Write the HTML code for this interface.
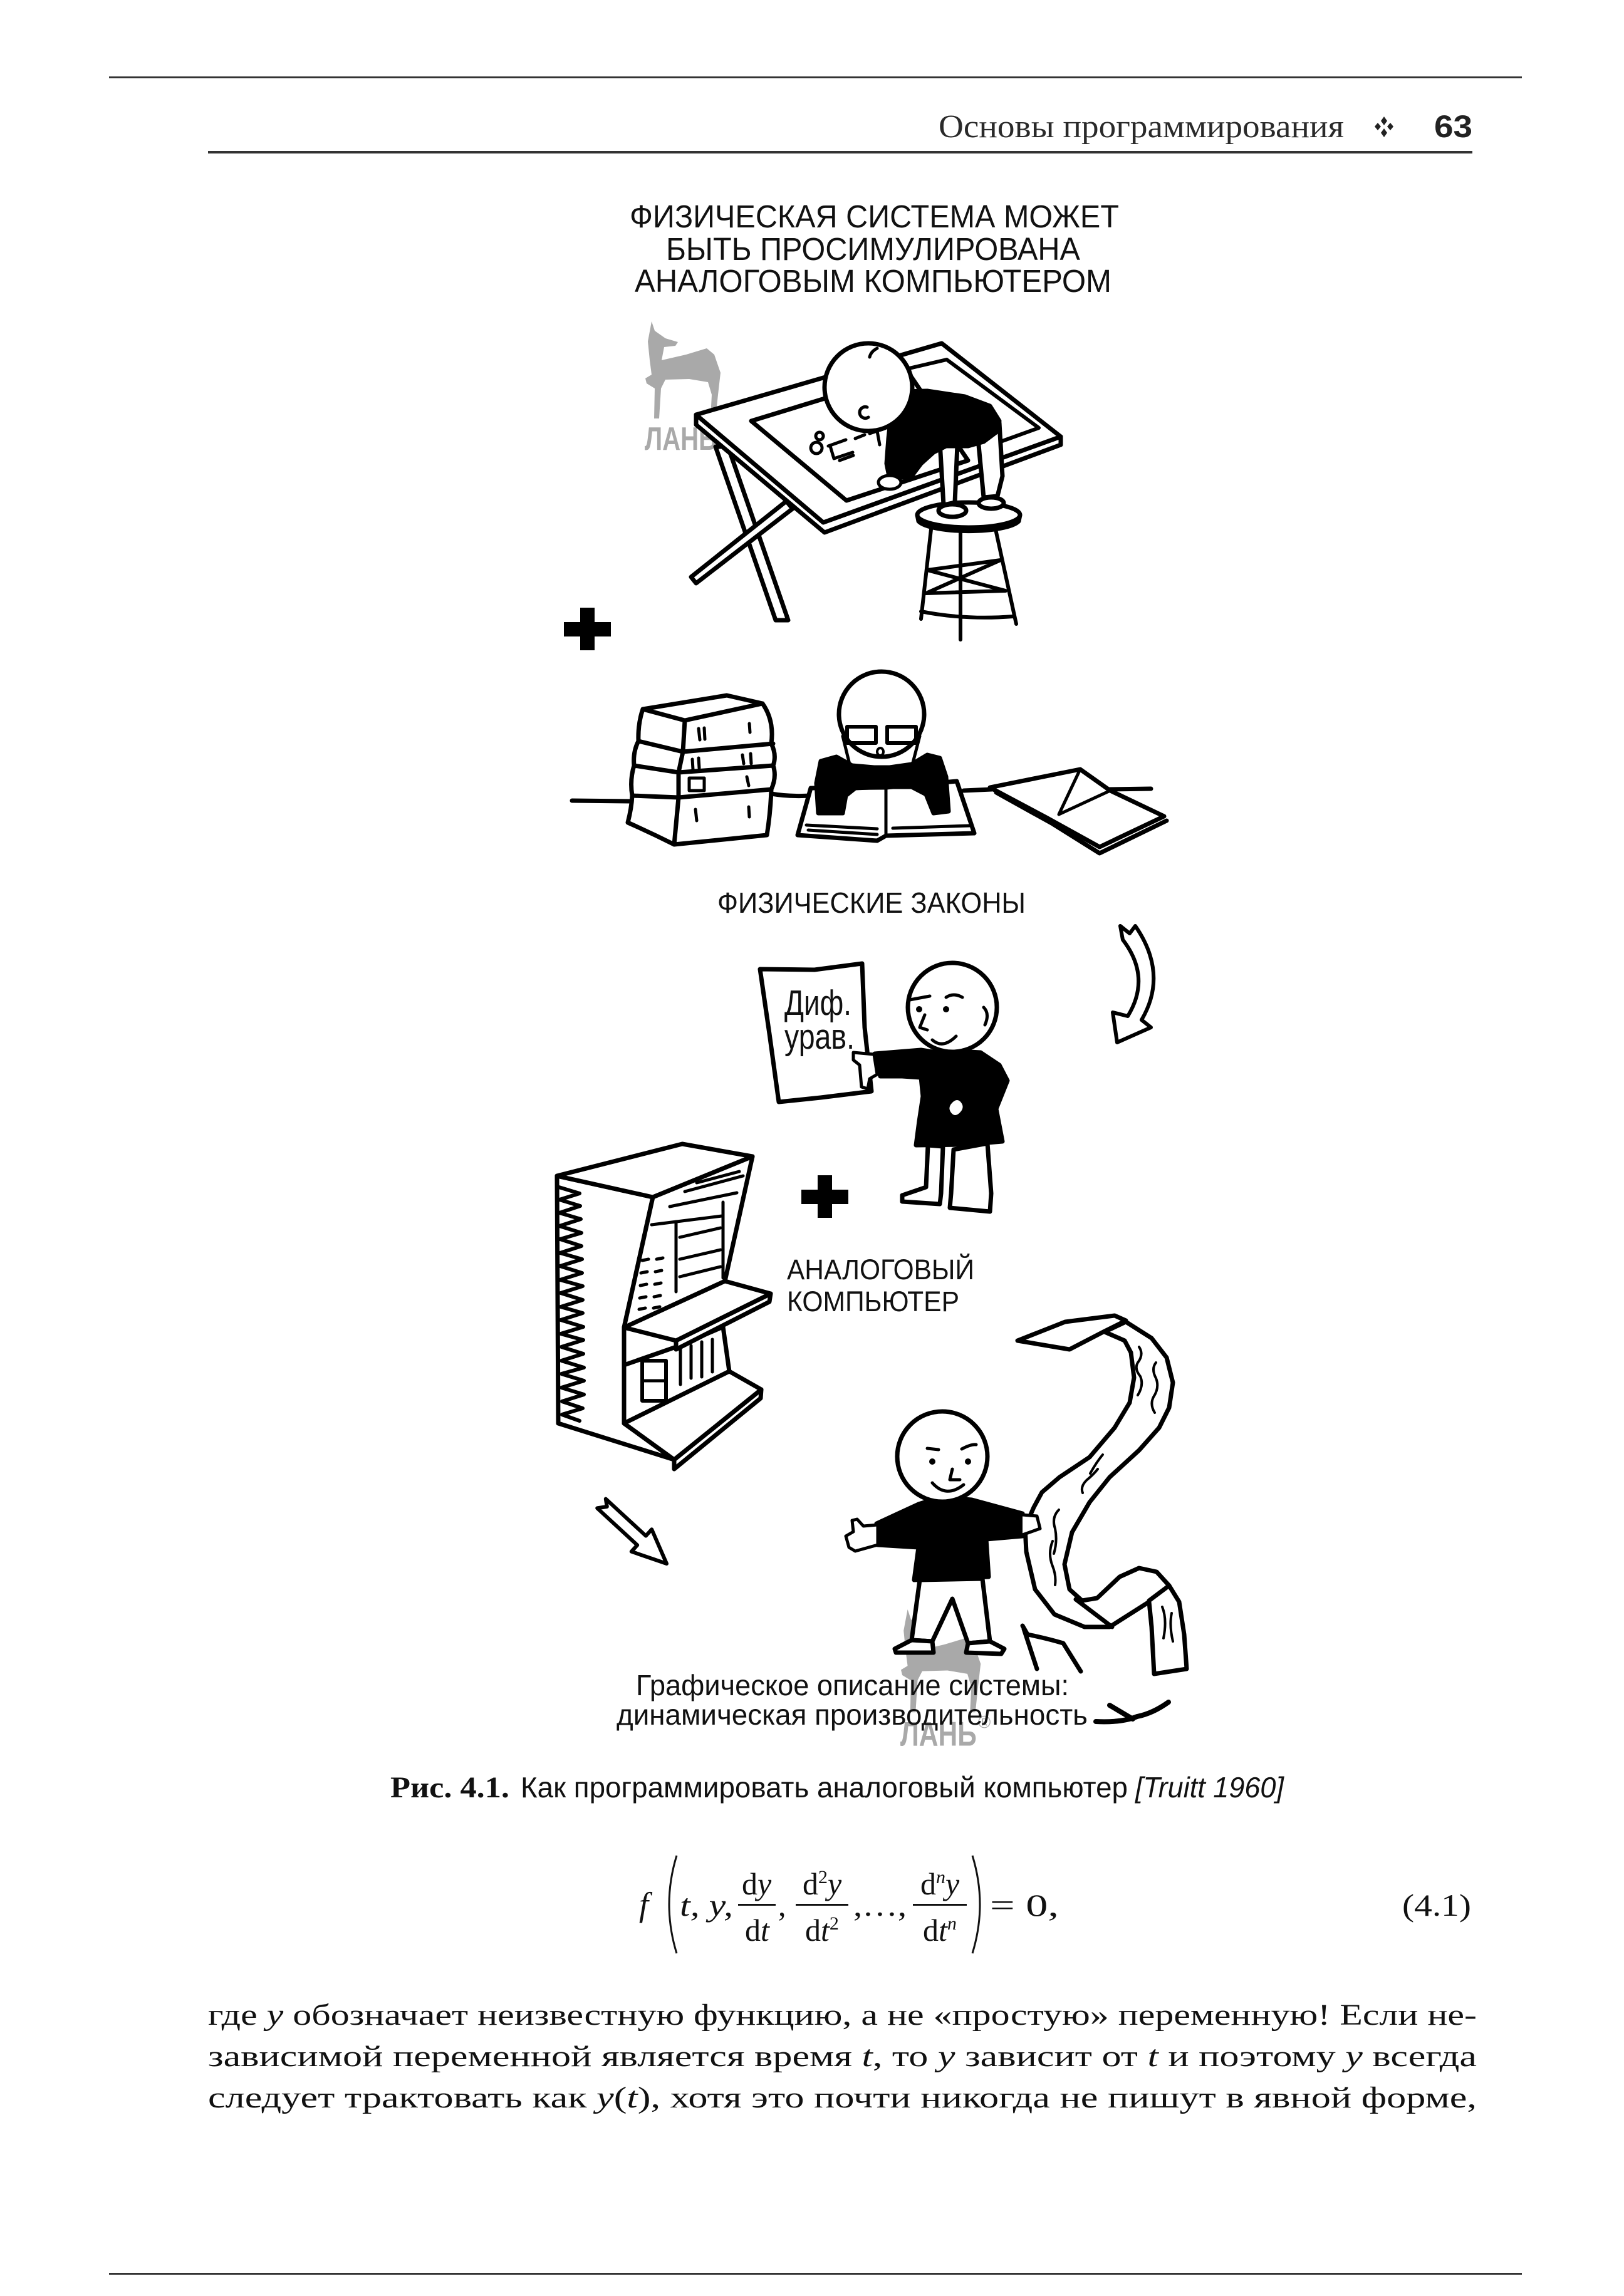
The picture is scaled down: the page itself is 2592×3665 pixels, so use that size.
<!DOCTYPE html>
<html><head><meta charset="utf-8"><style>
html,body{margin:0;padding:0;background:#fff;}
svg{display:block;}
</style></head><body>
<svg width="2592" height="3665" viewBox="0 0 2592 3665" xmlns="http://www.w3.org/2000/svg">
<rect width="2592" height="3665" fill="#fff"/>

<!-- rules -->
<rect x="174" y="122" width="2255" height="3" fill="#333"/>
<rect x="332" y="241" width="2018" height="4" fill="#333"/>
<rect x="174" y="3628" width="2255" height="3" fill="#333"/>

<!-- header -->
<text x="1498" y="219" font-family="Liberation Serif, serif" font-size="52" fill="#2a2a2a" textLength="647" lengthAdjust="spacingAndGlyphs">Основы программирования</text>
<g fill="#222">
<path d="M2209,186 l5,7 l-5,7 l-5,-7z"/>
<path d="M2209,205 l5,7 l-5,7 l-5,-7z"/>
<path d="M2199,196 l5,6 l-5,6 l-5,-6z"/>
<path d="M2219,196 l5,6 l-5,6 l-5,-6z"/>
</g>
<text x="2289" y="219" font-family="Liberation Sans, sans-serif" font-weight="bold" font-size="50" fill="#222" textLength="61" lengthAdjust="spacingAndGlyphs">63</text>

<!-- title -->
<g font-family="Liberation Sans, sans-serif" font-size="51" fill="#111">
<text x="1005" y="363" textLength="781" lengthAdjust="spacingAndGlyphs">ФИЗИЧЕСКАЯ СИСТЕМА МОЖЕТ</text>
<text x="1063" y="415" textLength="661" lengthAdjust="spacingAndGlyphs">БЫТЬ ПРОСИМУЛИРОВАНА</text>
<text x="1013" y="466" textLength="761" lengthAdjust="spacingAndGlyphs">АНАЛОГОВЫМ КОМПЬЮТЕРОМ</text>
</g>

<!-- watermark 1 -->
<g fill="#a9a9a9">
<path d="M1040,513 L1045,528 L1062,540 L1082,546 L1078,552 L1060,554 L1056,575 L1095,566 L1128,556 L1140,566 L1150,595 L1146,630 L1142,668 L1134,668 L1136,630 L1130,610 L1100,605 L1062,606 L1055,620 L1052,668 L1044,668 L1045,620 L1032,612 L1030,604 L1040,598 L1037,575 L1034,545 Z"/>
<text x="1029" y="718" font-family="Liberation Sans, sans-serif" font-weight="bold" font-size="52" textLength="115" lengthAdjust="spacingAndGlyphs">ЛАНЬ</text>
<text x="1146" y="692" font-family="Liberation Sans, sans-serif" font-size="26">®</text>
</g>

<!-- drawing 1: drafting table -->
<g stroke="#000" stroke-width="7" fill="#fff" stroke-linejoin="round" stroke-linecap="round">
<polygon points="1142,713 1162,713 1258,990 1238,990"/>
<polygon points="1255,800 1265,812 1111,931 1103,921"/>
<polygon points="1111,662 1314,834 1693,697 1693,710 1316,850 1111,678"/>
<polygon points="1111,662 1503,548 1693,697 1314,834"/>
<path d="M1451,588 L1511,574 L1658,683 L1597,705" fill="none" stroke-width="6"/>
<polygon points="1199,672 1450,595 1545,735 1351,799"/>
<!-- scribbles -->
<path d="M1303,706 a9,9 0 1,0 0.1,0 M1308,690 a6,6 0 1,0 0.1,0 M1322,712 l28,-10 M1325,712 l6,20 l30,-10 M1365,700 l15,-6 M1388,692 l12,-4 l4,22 M1340,735 l22,-8" fill="none" stroke-width="5"/>
<!-- stool -->
<path d="M1486,845 L1470,988 M1533,849 L1533,1021 M1589,845 L1622,996 M1480,910 L1597,894 M1478,947 L1605,943 M1470,976 Q1540,990 1617,984 M1480,910 L1605,943 M1597,894 L1478,947" fill="none" stroke-width="6"/>
<path d="M1464,822 L1466,832 A82,20 0 0,0 1626,832 L1628,822" />
<ellipse cx="1546" cy="822" rx="82" ry="20"/>
<!-- legs -->
<polygon points="1500,705 1528,710 1524,802 1506,806"/>
<polygon points="1560,690 1595,675 1600,760 1592,792 1570,794"/>
<ellipse cx="1520" cy="815" rx="22" ry="10"/>
<ellipse cx="1582" cy="803" rx="20" ry="9"/>
<!-- body -->
<polygon fill="#000" points="1429,625 1480,624 1540,633 1580,648 1595,672 1590,690 1570,705 1545,712 1510,712 1490,722 1470,740 1455,760 1420,765 1415,740 1418,700 1421,672 1425,650"/>
<ellipse cx="1420" cy="770" rx="18" ry="11" stroke-width="5"/>
<circle cx="1386" cy="618" r="70"/>
<path d="M1384,650 a9,9 0 1,0 2,16 M1400,556 q-10,5 -12,14" fill="none" stroke-width="5"/>
</g>

<!-- plus 1 -->
<g fill="#000">
<rect x="900" y="993" width="75" height="23"/>
<rect x="926" y="970" width="23" height="68"/>
</g>

<!-- drawing 2: books row -->
<g stroke="#000" stroke-width="7" fill="#fff" stroke-linejoin="round" stroke-linecap="round">
<path d="M913,1278 L1005,1279 M1231,1267 Q1260,1272 1294,1270 M1538,1262 L1583,1260 M1767,1260 L1837,1259" fill="none"/>
<path d="M1026,1132 L1160,1110 L1217,1123 Q1236,1150 1231,1187 Q1240,1205 1234,1222 Q1240,1240 1231,1260 Q1230,1295 1224,1333 L1076,1348 Q1040,1330 1002,1313 Q1008,1290 1009,1270 Q1005,1245 1012,1222 Q1010,1200 1019,1183 Q1018,1155 1026,1132 Z"/>
<path d="M1026,1132 L1093,1150 L1217,1123 M1093,1150 L1090,1200 L1083,1233 L1083,1273 L1076,1348 M1019,1183 L1090,1200 L1234,1187 M1012,1222 L1083,1233 L1234,1222 M1009,1270 L1083,1273 L1231,1260" fill="none"/>
<path d="M1115,1163 l2,18 M1124,1162 l1,18 M1196,1155 l1,14 M1105,1212 l1,16 M1115,1210 l1,16 M1185,1205 l2,14 M1198,1203 l1,16 M1192,1240 l3,14 M1110,1292 l2,18 M1195,1288 l1,16" fill="none" stroke-width="5"/>
<rect x="1100" y="1242" width="24" height="20" fill="none" stroke-width="5"/>
<!-- reader book -->
<path d="M1294,1258 L1414,1257 L1527,1247 L1555,1330 L1414,1334 L1400,1342 L1273,1333 Z"/>
<path d="M1414,1257 L1414,1334 M1287,1317 L1400,1323 M1290,1325 L1400,1332 M1425,1322 L1548,1318" fill="none" stroke-width="5"/>
<!-- reader body -->
<polygon fill="#000" points="1310,1215 1335,1208 1360,1222 1395,1225 1420,1225 1455,1220 1480,1205 1500,1210 1510,1240 1514,1295 1490,1298 1478,1268 1455,1256 1410,1256 1365,1258 1350,1270 1345,1298 1306,1298 1303,1250"/>
<ellipse cx="1407" cy="1140" rx="68" ry="68"/>
<rect x="1352" y="1160" width="46" height="26" fill="none" stroke-width="6"/>
<rect x="1416" y="1160" width="46" height="26" fill="none" stroke-width="6"/>
<path d="M1345,1175 L1358,1228 M1468,1175 L1455,1225" fill="none" stroke-width="5"/>
<ellipse cx="1405" cy="1200" rx="5" ry="6" stroke-width="4"/>
<!-- right open book -->
<path d="M1590,1265 L1680,1315 L1755,1362 L1862,1310" fill="none"/>
<polygon points="1580,1257 1724,1228 1772,1262 1858,1303 1755,1352 1670,1305"/>
<path d="M1724,1228 L1690,1300 M1690,1300 L1772,1262" fill="none" stroke-width="5"/>
</g>
<text x="1145" y="1457" font-family="Liberation Sans, sans-serif" font-size="46" fill="#111" textLength="492" lengthAdjust="spacingAndGlyphs">ФИЗИЧЕСКИЕ ЗАКОНЫ</text>

<!-- curved arrow -->
<path d="M1792,1500 L1788,1478 L1803,1490 L1812,1478 Q1865,1555 1822,1628 L1837,1640 L1783,1664 L1776,1616 L1800,1622 Q1838,1560 1792,1500 Z" fill="#fff" stroke="#000" stroke-width="6" stroke-linejoin="round"/>

<!-- person 2 -->
<g stroke="#000" stroke-width="7" fill="#fff" stroke-linejoin="round" stroke-linecap="round">
<polygon points="1213,1547 1300,1548 1376,1538 1380,1640 1391,1742 1310,1752 1243,1759 1228,1650"/>
<path d="M1481,1828 L1478,1895 L1440,1908 L1440,1918 L1500,1922 L1502,1905 L1505,1830 Z"/>
<path d="M1522,1835 L1518,1905 L1516,1928 L1580,1934 L1582,1905 L1576,1825 Z"/>
<polygon fill="#000" points="1396,1682 1470,1676 1495,1680 1530,1678 1565,1680 1595,1700 1608,1725 1598,1750 1590,1770 1600,1822 1540,1827 1462,1828 1467,1790 1473,1750 1470,1720 1440,1718 1405,1718 1400,1700"/>
<path d="M1520,1760 q8,-8 14,0 q6,8 -2,16 q-8,8 -14,0 q-6,-8 2,-16z" stroke="none"/>
<polygon points="1362,1680 1395,1683 1400,1715 1388,1722 1385,1738 1375,1735 1372,1700 1362,1692" stroke-width="5"/>
<circle cx="1520" cy="1608" r="71"/>
<path d="M1452,1596 L1484,1590 M1510,1592 Q1522,1584 1536,1592 M1476,1620 L1468,1640 L1480,1644 M1488,1660 Q1505,1675 1526,1654 M1570,1608 q10,10 2,28" fill="none" stroke-width="5"/>
<circle cx="1467" cy="1611" r="5" fill="#000" stroke="none"/>
<circle cx="1510" cy="1611" r="5" fill="#000" stroke="none"/>
</g>
<g font-family="Liberation Sans, sans-serif" font-size="57" fill="#111">
<text x="1252" y="1620" textLength="107" lengthAdjust="spacingAndGlyphs">Диф.</text>
<text x="1252" y="1674" textLength="112" lengthAdjust="spacingAndGlyphs">урав.</text>
</g>

<!-- plus 2 -->
<g fill="#000">
<rect x="1279" y="1899" width="75" height="23"/>
<rect x="1305" y="1876" width="23" height="68"/>
</g>

<g font-family="Liberation Sans, sans-serif" font-size="45" fill="#111">
<text x="1256" y="2042" textLength="299" lengthAdjust="spacingAndGlyphs">АНАЛОГОВЫЙ</text>
<text x="1256" y="2093" textLength="275" lengthAdjust="spacingAndGlyphs">КОМПЬЮТЕР</text>
</g>

<!-- computer -->
<g stroke="#000" stroke-width="7" fill="#fff" stroke-linejoin="round" stroke-linecap="round">
<polygon points="889,1877 1042,1911 996,2119 996,2272 1076,2330 891,2272"/>
<polygon points="889,1877 1089,1826 1201,1846 1042,1911"/>
<polygon points="1042,1911 1201,1846 1157,2045 996,2119"/>
<polygon points="996,2179 1079,2150 1154,2118 1164,2189 996,2272"/>
<polygon points="1079,2140 1230,2065 1228,2078 1079,2154"/>
<polygon points="996,2119 1157,2045 1230,2065 1079,2140"/>
<polygon points="1076,2330 1215,2218 1214,2232 1076,2345"/>
<polygon points="996,2272 1164,2189 1215,2218 1076,2330"/>
<path d="M1069,1926 L1176,1904 M1093,1902 L1186,1877 M1112,1888 L1180,1870 M1040,1955 L1152,1941 M1079,1950 L1079,2062 M1154,1919 L1154,2040 M1085,1975 L1150,1960 M1085,2010 L1150,1995 M1085,2038 L1150,2022" fill="none" stroke-width="5"/>
<path d="M1025,2012 l10,-2 M1048,2010 l10,-2 M1023,2032 l10,-2 M1046,2030 l10,-2 M1022,2052 l10,-2 M1045,2050 l10,-2 M1021,2072 l10,-2 M1044,2070 l10,-2 M1020,2090 l10,-2 M1043,2088 l10,-2" fill="none" stroke-width="5"/>
<rect x="1025" y="2172" width="38" height="64" fill="none" stroke-width="6"/>
<path d="M1025,2204 L1063,2204 M1086,2150 L1086,2210 M1103,2148 L1103,2200 M1120,2142 L1120,2198 M1137,2138 L1137,2190" fill="none" stroke-width="5"/>
<path d="M892,1895 L925,1905 L893,1915 L926,1925 L893,1936 L927,1946 L893,1957 L928,1968 L894,1978 L928,1989 L894,2000 L929,2010 L894,2021 L929,2032 L894,2043 L930,2053 L895,2064 L930,2075 L895,2086 L930,2096 L895,2107 L931,2118 L895,2129 L931,2139 L896,2150 L931,2161 L896,2172 L932,2183 L896,2193 L932,2204 L896,2215 L932,2226 L897,2237 L930,2248 L897,2258 L925,2268" fill="none" stroke-width="6"/>
</g>

<!-- diagonal arrow -->
<polygon points="966.8,2392.6 1030.8,2451.6 1040.2,2441.3 1064,2496 1007.8,2476.7 1017.2,2466.4 953.2,2407.4 968.8,2405" fill="#fff" stroke="#000" stroke-width="6" stroke-linejoin="round"/>

<!-- watermark 2 -->
<g fill="#a9a9a9" transform="translate(1438,2569) scale(1.06) translate(-1030,-513)">
<path d="M1040,513 L1045,528 L1062,540 L1082,546 L1078,552 L1060,554 L1056,575 L1095,566 L1128,556 L1140,566 L1150,595 L1146,630 L1142,668 L1134,668 L1136,630 L1130,610 L1100,605 L1062,606 L1055,620 L1052,668 L1044,668 L1045,620 L1032,612 L1030,604 L1040,598 L1037,575 L1034,545 Z"/>
<text x="1029" y="718" font-family="Liberation Sans, sans-serif" font-weight="bold" font-size="52" textLength="115" lengthAdjust="spacingAndGlyphs">ЛАНЬ</text>
<text x="1146" y="692" font-family="Liberation Sans, sans-serif" font-size="26">®</text>
</g>

<!-- scroll -->
<g stroke="#000" stroke-width="7" fill="#fff" stroke-linejoin="round" stroke-linecap="round">
<path d="M1797,2110 L1838,2136 L1862,2167 L1872,2207 L1866,2247 L1850,2279 L1818,2315 L1771,2358 L1739,2398 L1711,2446 L1699,2497 L1707,2537 L1727,2555 L1751,2551 L1787,2517 L1818,2503 L1846,2509 L1866,2531 L1882,2557 L1890,2609 L1894,2664 L1842,2672 L1838,2597 L1834,2557 L1771,2597 L1731,2597 L1683,2577 L1652,2537 L1638,2477 L1636,2438 L1650,2406 L1663,2382 L1691,2358 L1739,2326 L1779,2279 L1803,2239 L1810,2199 L1805,2159 L1795,2140 L1763,2126 Z"/>
<path d="M1717,2553 L1775,2597 M1834,2555 L1866,2531" fill="none"/>
<polygon points="1624,2140 1700,2110 1779,2100 1797,2108 1761,2126 1707,2154"/>
<path d="M1632,2595 L1640,2609 Q1670,2615 1697,2623 L1725,2668 M1634,2600 L1655,2664" fill="none"/>
<path d="M1818,2150 q8,12 -2,25 q-6,10 4,22 q6,14 -4,30 M1845,2175 q-8,10 0,25 q6,15 -4,30 q-6,12 2,25 M1760,2322 q-10,12 -20,30 M1752,2345 q-6,8 -18,18 q-10,10 -6,20 M1690,2410 q-12,12 -6,30 q4,20 -2,40 M1680,2460 q-8,20 0,40 q6,15 4,30 M1855,2565 q8,20 2,50 M1870,2575 q-4,20 2,45" fill="none" stroke-width="4"/>
</g>

<!-- person 3 -->
<g stroke="#000" stroke-width="7" fill="#fff" stroke-linejoin="round" stroke-linecap="round">
<path d="M1468,2522 L1455,2618 L1488,2620 L1520,2552 L1545,2623 L1580,2620 L1568,2520 Z"/>
<path d="M1428,2632 L1455,2618 L1488,2620 L1490,2638 L1430,2638 Z"/>
<path d="M1545,2623 L1580,2620 L1603,2632 L1598,2640 L1542,2638 Z"/>
<polygon fill="#000" points="1466,2401 1502,2390 1551,2394 1632,2416 1632,2452 1574,2457 1578,2517 1459,2522 1466,2470 1401,2466 1399,2432"/>
<polygon points="1401,2434 1378,2436 1368,2425 1360,2427 1362,2445 1350,2452 1355,2470 1365,2476 1401,2466" stroke-width="5"/>
<path d="M1632,2418 L1655,2420 L1660,2440 L1632,2450" stroke-width="5"/>
<circle cx="1504" cy="2325" r="72"/>
<path d="M1480,2312 L1498,2314 M1535,2313 Q1550,2305 1558,2306 M1520,2345 L1516,2362 L1532,2362 M1488,2367 Q1510,2392 1538,2370" fill="none" stroke-width="5"/>
<circle cx="1488" cy="2333" r="5" fill="#000" stroke="none"/>
<circle cx="1545" cy="2333" r="5" fill="#000" stroke="none"/>
</g>

<!-- bottom labels -->
<g font-family="Liberation Sans, sans-serif" font-size="46" fill="#111">
<text x="1015" y="2706" textLength="691" lengthAdjust="spacingAndGlyphs">Графическое описание системы:</text>
<text x="984" y="2753" textLength="752" lengthAdjust="spacingAndGlyphs">динамическая производительность</text>
</g>
<path d="M1749,2748 Q1790,2750 1815,2740 Q1840,2735 1865,2717 M1771,2722 L1808,2744" fill="none" stroke="#000" stroke-width="8" stroke-linecap="round"/>

<!-- caption -->
<text x="623" y="2869" font-family="Liberation Serif, serif" font-weight="bold" font-size="48" fill="#111" textLength="190" lengthAdjust="spacingAndGlyphs">Рис. 4.1.</text>
<text x="831" y="2869" font-family="Liberation Sans, sans-serif" font-size="46" fill="#111" textLength="969" lengthAdjust="spacingAndGlyphs">Как программировать аналоговый компьютер</text>
<text x="1812" y="2869" font-family="Liberation Sans, sans-serif" font-style="italic" font-size="46" fill="#111" textLength="237" lengthAdjust="spacingAndGlyphs">[Truitt 1960]</text>

<!-- equation -->
<g font-family="Liberation Serif, serif" font-size="50" fill="#111">
<text x="1020" y="3058" font-style="italic" font-size="54">f</text>
<path d="M1080,2962 Q1056,3040 1080,3118" fill="none" stroke="#111" stroke-width="3"/>
<path d="M1552,2962 Q1576,3040 1552,3118" fill="none" stroke="#111" stroke-width="3"/>
<text x="1085" y="3058" font-style="italic" textLength="85" lengthAdjust="spacingAndGlyphs">t, y,</text>
<text x="1184" y="3024">d<tspan font-style="italic">y</tspan></text>
<rect x="1178" y="3039" width="60" height="3"/>
<text x="1189" y="3098">d<tspan font-style="italic">t</tspan></text>
<text x="1242" y="3058">,</text>
<text x="1281" y="3024">d<tspan font-size="30" dy="-18">2</tspan><tspan font-style="italic" dy="18">y</tspan></text>
<rect x="1270" y="3039" width="84" height="3"/>
<text x="1285" y="3098">d<tspan font-style="italic">t</tspan><tspan font-size="30" dy="-18">2</tspan></text>
<text x="1362" y="3058" textLength="85" lengthAdjust="spacingAndGlyphs">,…,</text>
<text x="1469" y="3024">d<tspan font-size="30" dy="-18" font-style="italic">n</tspan><tspan font-style="italic" dy="18">y</tspan></text>
<rect x="1457" y="3039" width="86" height="3"/>
<text x="1473" y="3098">d<tspan font-style="italic">t</tspan><tspan font-size="30" dy="-18" font-style="italic">n</tspan></text>
<text x="1580" y="3058" textLength="110" lengthAdjust="spacingAndGlyphs">= 0,</text>
<text x="2238" y="3058" textLength="110" lengthAdjust="spacingAndGlyphs">(4.1)</text>
</g>

<!-- body text -->
<g font-family="Liberation Serif, serif" font-size="48" fill="#111">
<text x="332" y="3232" textLength="2025" lengthAdjust="spacingAndGlyphs">где <tspan font-style="italic">y</tspan> обозначает неизвестную функцию, а не «простую» переменную! Если не-</text>
<text x="332" y="3298" textLength="2025" lengthAdjust="spacingAndGlyphs">зависимой переменной является время <tspan font-style="italic">t</tspan>, то <tspan font-style="italic">y</tspan> зависит от <tspan font-style="italic">t</tspan> и поэтому <tspan font-style="italic">y</tspan> всегда</text>
<text x="332" y="3364" textLength="2025" lengthAdjust="spacingAndGlyphs">следует трактовать как <tspan font-style="italic">y</tspan>(<tspan font-style="italic">t</tspan>), хотя это почти никогда не пишут в явной форме,</text>
</g>
</svg>
</body></html>
